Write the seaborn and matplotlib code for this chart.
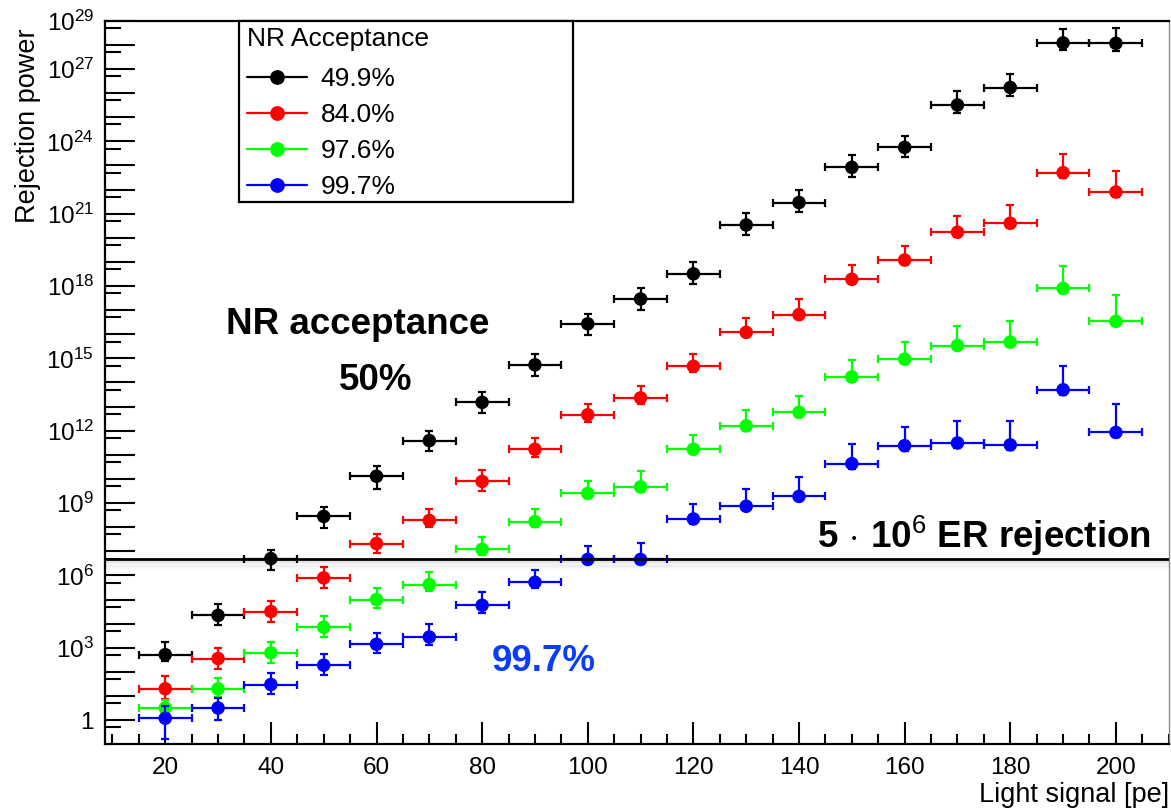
import numpy as np
import pandas as pd
import matplotlib
matplotlib.use("Agg")
import matplotlib.pyplot as plt
import matplotlib.ticker as mticker
import matplotlib.transforms as mtransforms
from matplotlib.patches import Rectangle
from matplotlib.lines import Line2D
import seaborn as sns

# ---------------------------------------------------------------- data
light_signal = [20, 30, 40, 50, 60, 70, 80, 90, 100, 110,
                120, 130, 140, 150, 160, 170, 180, 190, 200]
bin_half_width = 5

acceptance_labels = ["49.9%", "84.0%", "97.6%", "99.7%"]
series_colors = ["#000000", "#ff0000", "#00ff00", "#0000ff"]

rej_499 = [5.2e2, 2.2e4, 5.0e6, 2.8e8, 1.3e10, 3.9e11, 1.5e13, 5.4e14, 2.7e16, 2.9e17,
           3.2e18, 3.4e20, 2.9e21, 8.3e22, 5.6e23, 3.2e25, 1.7e26, 1.2e28, 1.15e28]
rej_840 = [2.0e1, 3.6e2, 3.2e4, 7.9e5, 2.1e7, 1.9e8, 7.9e9, 1.7e11, 4.6e12, 2.3e13,
           4.7e14, 1.2e16, 6.5e16, 1.9e18, 1.2e19, 1.7e20, 4.0e20, 5.0e22, 7.9e21]
rej_976 = [3.2, 2.0e1, 6.2e2, 7.1e3, 1.0e5, 4.2e5, 1.2e7, 1.7e8, 2.5e9, 4.7e9,
           1.7e11, 1.6e12, 5.8e12, 1.7e14, 9.3e14, 3.4e15, 4.7e15, 7.9e17, 3.4e16]
rej_997 = [1.2, 3.2, 3.0e1, 1.9e2, 1.4e3, 2.8e3, 5.8e4, 5.2e5, 4.6e6, 4.6e6,
           2.2e8, 7.4e8, 1.9e9, 4.3e10, 2.4e11, 3.1e11, 2.6e11, 5.0e13, 8.5e11]

# asymmetric uncertainties, in decades above / below each point
up_499 = [0.51, 0.46, 0.37, 0.41, 0.41, 0.41, 0.42, 0.44, 0.41, 0.46,
          0.47, 0.48, 0.50, 0.50, 0.47, 0.57, 0.57, 0.58, 0.62]
lo_499 = [0.28, 0.41, 0.48, 0.48, 0.52, 0.44, 0.45, 0.45, 0.46, 0.44,
          0.42, 0.40, 0.40, 0.38, 0.38, 0.35, 0.35, 0.30, 0.30]
up_840 = [0.52, 0.44, 0.43, 0.46, 0.41, 0.48, 0.46, 0.46, 0.46, 0.48,
          0.51, 0.58, 0.65, 0.59, 0.59, 0.69, 0.76, 0.77, 0.88]
lo_840 = [0.44, 0.43, 0.44, 0.41, 0.41, 0.28, 0.41, 0.30, 0.30, 0.25,
          0.25, 0.20, 0.20, 0.20, 0.20, 0.20, 0.20, 0.20, 0.20]
up_976 = [0.35, 0.46, 0.44, 0.46, 0.48, 0.51, 0.52, 0.51, 0.52, 0.65,
          0.58, 0.66, 0.68, 0.69, 0.70, 0.81, 0.86, 0.95, 1.09]
lo_976 = [0.30, 0.35, 0.41, 0.40, 0.35, 0.28, 0.22, 0.23, 0.20, 0.20,
          0.20, 0.20, 0.20, 0.20, 0.20, 0.20, 0.20, 0.20, 0.20]
up_997 = [0.50, 0.41, 0.48, 0.46, 0.48, 0.55, 0.54, 0.52, 0.55, 0.69,
          0.62, 0.73, 0.80, 0.83, 0.76, 0.90, 0.98, 1.00, 1.19]
lo_997 = [0.85, 0.51, 0.41, 0.41, 0.37, 0.32, 0.32, 0.23, 0.20, 0.20,
          0.20, 0.20, 0.20, 0.20, 0.20, 0.20, 0.20, 0.20, 0.20]

er_rejection_target = 5e6

series = [
    (acceptance_labels[0], rej_499, up_499, lo_499, series_colors[0]),
    (acceptance_labels[1], rej_840, up_840, lo_840, series_colors[1]),
    (acceptance_labels[2], rej_976, up_976, lo_976, series_colors[2]),
    (acceptance_labels[3], rej_997, up_997, lo_997, series_colors[3]),
]

frames = []
for label, vals, up, lo, _ in series:
    v = np.asarray(vals, dtype=float)
    frames.append(pd.DataFrame({
        "signal": light_signal,
        "rejection": v,
        "err_hi": v * (10 ** np.asarray(up)) - v,
        "err_lo": v - v * (10 ** -np.asarray(lo)),
        "acceptance": label,
    }))
df = pd.concat(frames, ignore_index=True)

# ---------------------------------------------------------------- style
sns.set_theme(style="white")
plt.rcParams["font.family"] = ["Liberation Sans", "DejaVu Sans"]
plt.rcParams["mathtext.fontset"] = "custom"
plt.rcParams["mathtext.rm"] = "Liberation Sans"
plt.rcParams["mathtext.it"] = "Liberation Sans:italic"
plt.rcParams["mathtext.bf"] = "Liberation Sans:bold"
for key in ["text.color", "axes.labelcolor", "xtick.color", "ytick.color"]:
    plt.rcParams[key] = "black"

fig = plt.figure(figsize=(11.71, 8.09), dpi=100)
ax = fig.add_axes([0.0897, 0.080, 0.9088, 0.8944])

palette = dict(zip(acceptance_labels, series_colors))

for i, (label, _, _, _, color) in enumerate(series):
    sub = df[df["acceptance"] == label]
    ax.errorbar(sub["signal"], sub["rejection"],
                xerr=bin_half_width,
                yerr=[sub["err_lo"], sub["err_hi"]],
                fmt="none", ecolor=color, elinewidth=1.6,
                capsize=3.0, capthick=1.6, zorder=3 + 2 * i)
    sns.scatterplot(data=sub, x="signal", y="rejection", hue="acceptance",
                    palette=palette, s=95, linewidth=0, marker="o",
                    legend=False, ax=ax, zorder=4 + 2 * i)

# 5e6 ER rejection reference line with a soft shadow underneath
for k in range(1, 10):
    trans = mtransforms.offset_copy(ax.get_yaxis_transform(), fig=fig,
                                    x=0, y=-1.2 * k, units="dots")
    ax.plot([0, 1], [er_rejection_target, er_rejection_target],
            transform=trans, color="#000000", alpha=0.035 * (10 - k) / 9 * 2.2,
            lw=1.3, solid_capstyle="butt", zorder=1)
ax.axhline(er_rejection_target, color="black", lw=2.0, zorder=12)

# ---------------------------------------------------------------- axes
ax.set_yscale("log")
ax.set_xlim(8.6, 210.1)
ax.set_ylim(0.1, 1e29)

ax.xaxis.set_major_locator(mticker.MultipleLocator(20))
ax.xaxis.set_minor_locator(mticker.MultipleLocator(5))

major_exp = list(range(0, 30))
labelled_exp = [0, 3, 6, 9, 12, 15, 18, 21, 24, 27, 29]


def decade_label(val, pos):
    e = int(round(np.log10(val)))
    if e not in labelled_exp:
        return ""
    if e == 0:
        return "1"
    return r"$10^{%d}$" % e


ax.yaxis.set_major_locator(mticker.FixedLocator([10.0 ** e for e in major_exp]))
ax.yaxis.set_major_formatter(mticker.FuncFormatter(decade_label))
ax.yaxis.set_minor_locator(mticker.FixedLocator([5 * 10.0 ** e for e in range(-1, 29)]))
ax.yaxis.set_minor_formatter(mticker.NullFormatter())

ax.tick_params(axis="x", which="major", direction="in", length=15.5, width=1.5,
               labelsize=17.5, pad=9, bottom=True, top=False, colors="black")
ax.tick_params(axis="x", which="minor", direction="in", length=7.5, width=1.5,
               bottom=True, top=False, colors="black")
ax.tick_params(axis="y", which="major", direction="in", length=21.5, width=1.5,
               labelsize=17.5, pad=8, left=True, right=False, colors="black")
ax.tick_params(axis="y", which="minor", direction="in", length=11.5, width=1.5,
               left=True, right=False, colors="black")

for side in ["left", "bottom", "top"]:
    ax.spines[side].set_color("black")
    ax.spines[side].set_linewidth(1.6)
ax.spines["right"].set_color("#888888")
ax.spines["right"].set_linewidth(1.0)

ax.set_xlabel("Light signal [pe]", fontsize=19.5, loc="right", labelpad=2)
ax.set_ylabel("Rejection power", fontsize=19.5, loc="top", labelpad=4)
ax.yaxis.label.set_y(0.99)

# ---------------------------------------------------------------- legend
ax.add_patch(Rectangle((0.126, 0.75), 0.314, 0.25, transform=ax.transAxes,
                       fill=True, facecolor="white", edgecolor="black",
                       lw=1.6, clip_on=False, zorder=20))
handles = [Line2D([], [], color=c, marker="o", markersize=9.6, lw=1.6)
           for c in series_colors]
leg = ax.legend(handles, acceptance_labels, title="NR Acceptance",
                loc="upper left", bbox_to_anchor=(0.128, 0.998),
                frameon=False, fontsize=19, title_fontsize=19,
                handlelength=2.3, handletextpad=0.5, labelspacing=0.45,
                borderpad=0.2, borderaxespad=0, alignment="left")
leg._legend_box.sep = 11.5
leg.set_zorder(21)

# ---------------------------------------------------------------- annotations
ax.text(56.4, 10 ** 16.4, "NR acceptance", fontsize=26.5, fontweight="bold",
        ha="center", va="center", zorder=22)
ax.text(59.8, 10 ** 14.1, "50%", fontsize=26.5, fontweight="bold",
        ha="center", va="center", zorder=22)
ax.text(91.6, 10 ** 2.45, "99.7%", fontsize=26.5, fontweight="bold",
        color="#0a3cff", ha="center", va="center", zorder=22)
ax.text(206.6, 10 ** 7.62, r"5$\,\cdot\,$10$^{6}$ ER rejection", fontsize=26.5,
        fontweight="bold", ha="right", va="center", zorder=22)

fig.savefig("out.png", dpi=100, facecolor="white")
